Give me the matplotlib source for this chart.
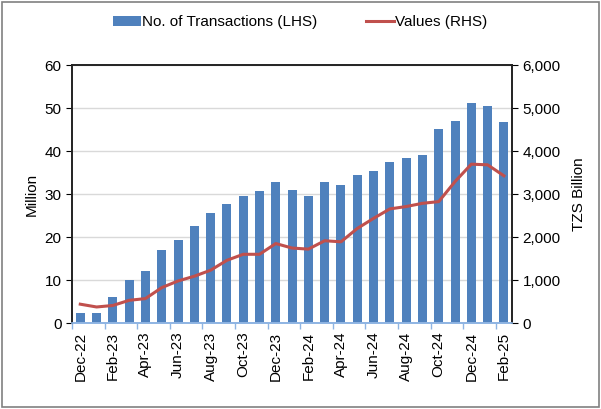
import numpy as np
import matplotlib.pyplot as plt
from matplotlib.patches import Rectangle

plt.rcParams['font.family'] = ['Liberation Sans', 'DejaVu Sans']

# Monthly data, Dec-22 to Feb-25
months = ['Dec-22', 'Jan-23', 'Feb-23', 'Mar-23', 'Apr-23', 'May-23', 'Jun-23',
          'Jul-23', 'Aug-23', 'Sep-23', 'Oct-23', 'Nov-23', 'Dec-23', 'Jan-24',
          'Feb-24', 'Mar-24', 'Apr-24', 'May-24', 'Jun-24', 'Jul-24', 'Aug-24',
          'Sep-24', 'Oct-24', 'Nov-24', 'Dec-24', 'Jan-25', 'Feb-25']
transactions = [2.3, 2.3, 6.1, 10.0, 12.2, 17.1, 19.4, 22.5, 25.5, 27.8, 29.6,
                30.6, 32.9, 31.0, 29.6, 32.8, 32.0, 34.4, 35.3, 37.4, 38.4,
                39.1, 45.2, 46.9, 51.1, 50.5, 46.8]
values = [440, 375, 410, 530, 570, 825, 980, 1090, 1230, 1460, 1600, 1600,
          1850, 1745, 1720, 1915, 1890, 2200, 2435, 2655, 2710, 2785, 2825,
          3290, 3695, 3680, 3425]

bar_color = '#4f81bd'
line_color = '#c0504d'
axis_blue = '#8eb4e3'

fig = plt.figure(figsize=(6.01, 4.09), dpi=100)
ax = fig.add_axes([0.12, 0.21, 0.732, 0.631])
ax2 = ax.twinx()

x = np.arange(len(months))
ax.bar(x, transactions, width=0.55, color=bar_color, zorder=2,
       label='No. of Transactions (LHS)')
ax2.plot(x, values, color=line_color, lw=2.2, label='Values (RHS)')

ax.set_xlim(-0.5, len(months) - 0.5)
ax.set_ylim(0, 60)
ax.set_yticks(np.arange(0, 61, 10))
ax2.set_ylim(0, 6000)
ax2.set_yticks(np.arange(0, 6001, 1000))
ax2.set_yticklabels([f'{v:,}' for v in range(0, 6001, 1000)])

ax.grid(axis='y', color='#d9d9d9', lw=1, zorder=0)
ax.set_axisbelow(True)

ax.set_xticks(x[::2])
ax.set_xticklabels(months[::2], rotation=90, fontsize=11)
ax.tick_params(axis='x', length=0, pad=6)
ax.set_xticks(np.arange(-0.5, len(months), 2), minor=True)
ax.tick_params(axis='x', which='minor', length=4, color=axis_blue, width=1)

ax.tick_params(axis='y', labelsize=11, length=4, direction='out')
ax2.tick_params(axis='y', labelsize=11, length=4, direction='out')

for a in (ax, ax2):
    a.spines['bottom'].set_color(axis_blue)
    a.spines['top'].set_color('#222222')
    a.spines['left'].set_color('#222222')
    a.spines['right'].set_color('#222222')
    for s in a.spines.values():
        s.set_linewidth(1.2)

ax.set_ylabel('Million', fontsize=11)
ax2.set_ylabel('TZS Billion', fontsize=11, labelpad=8)

h1, l1 = ax.get_legend_handles_labels()
h2, l2 = ax2.get_legend_handles_labels()
fig.legend(h1 + h2, l1 + l2, loc='center', bbox_to_anchor=(0.5, 0.945),
           ncol=2, frameon=False, fontsize=11, handlelength=1.8,
           handletextpad=0.1, columnspacing=3.2)

# outer frame of the chart
fig.patches.append(Rectangle((0.004, 0.004), 0.992, 0.992, transform=fig.transFigure,
                             fill=False, edgecolor='#808080', lw=1.2))

fig.savefig('out.png', dpi=100)
